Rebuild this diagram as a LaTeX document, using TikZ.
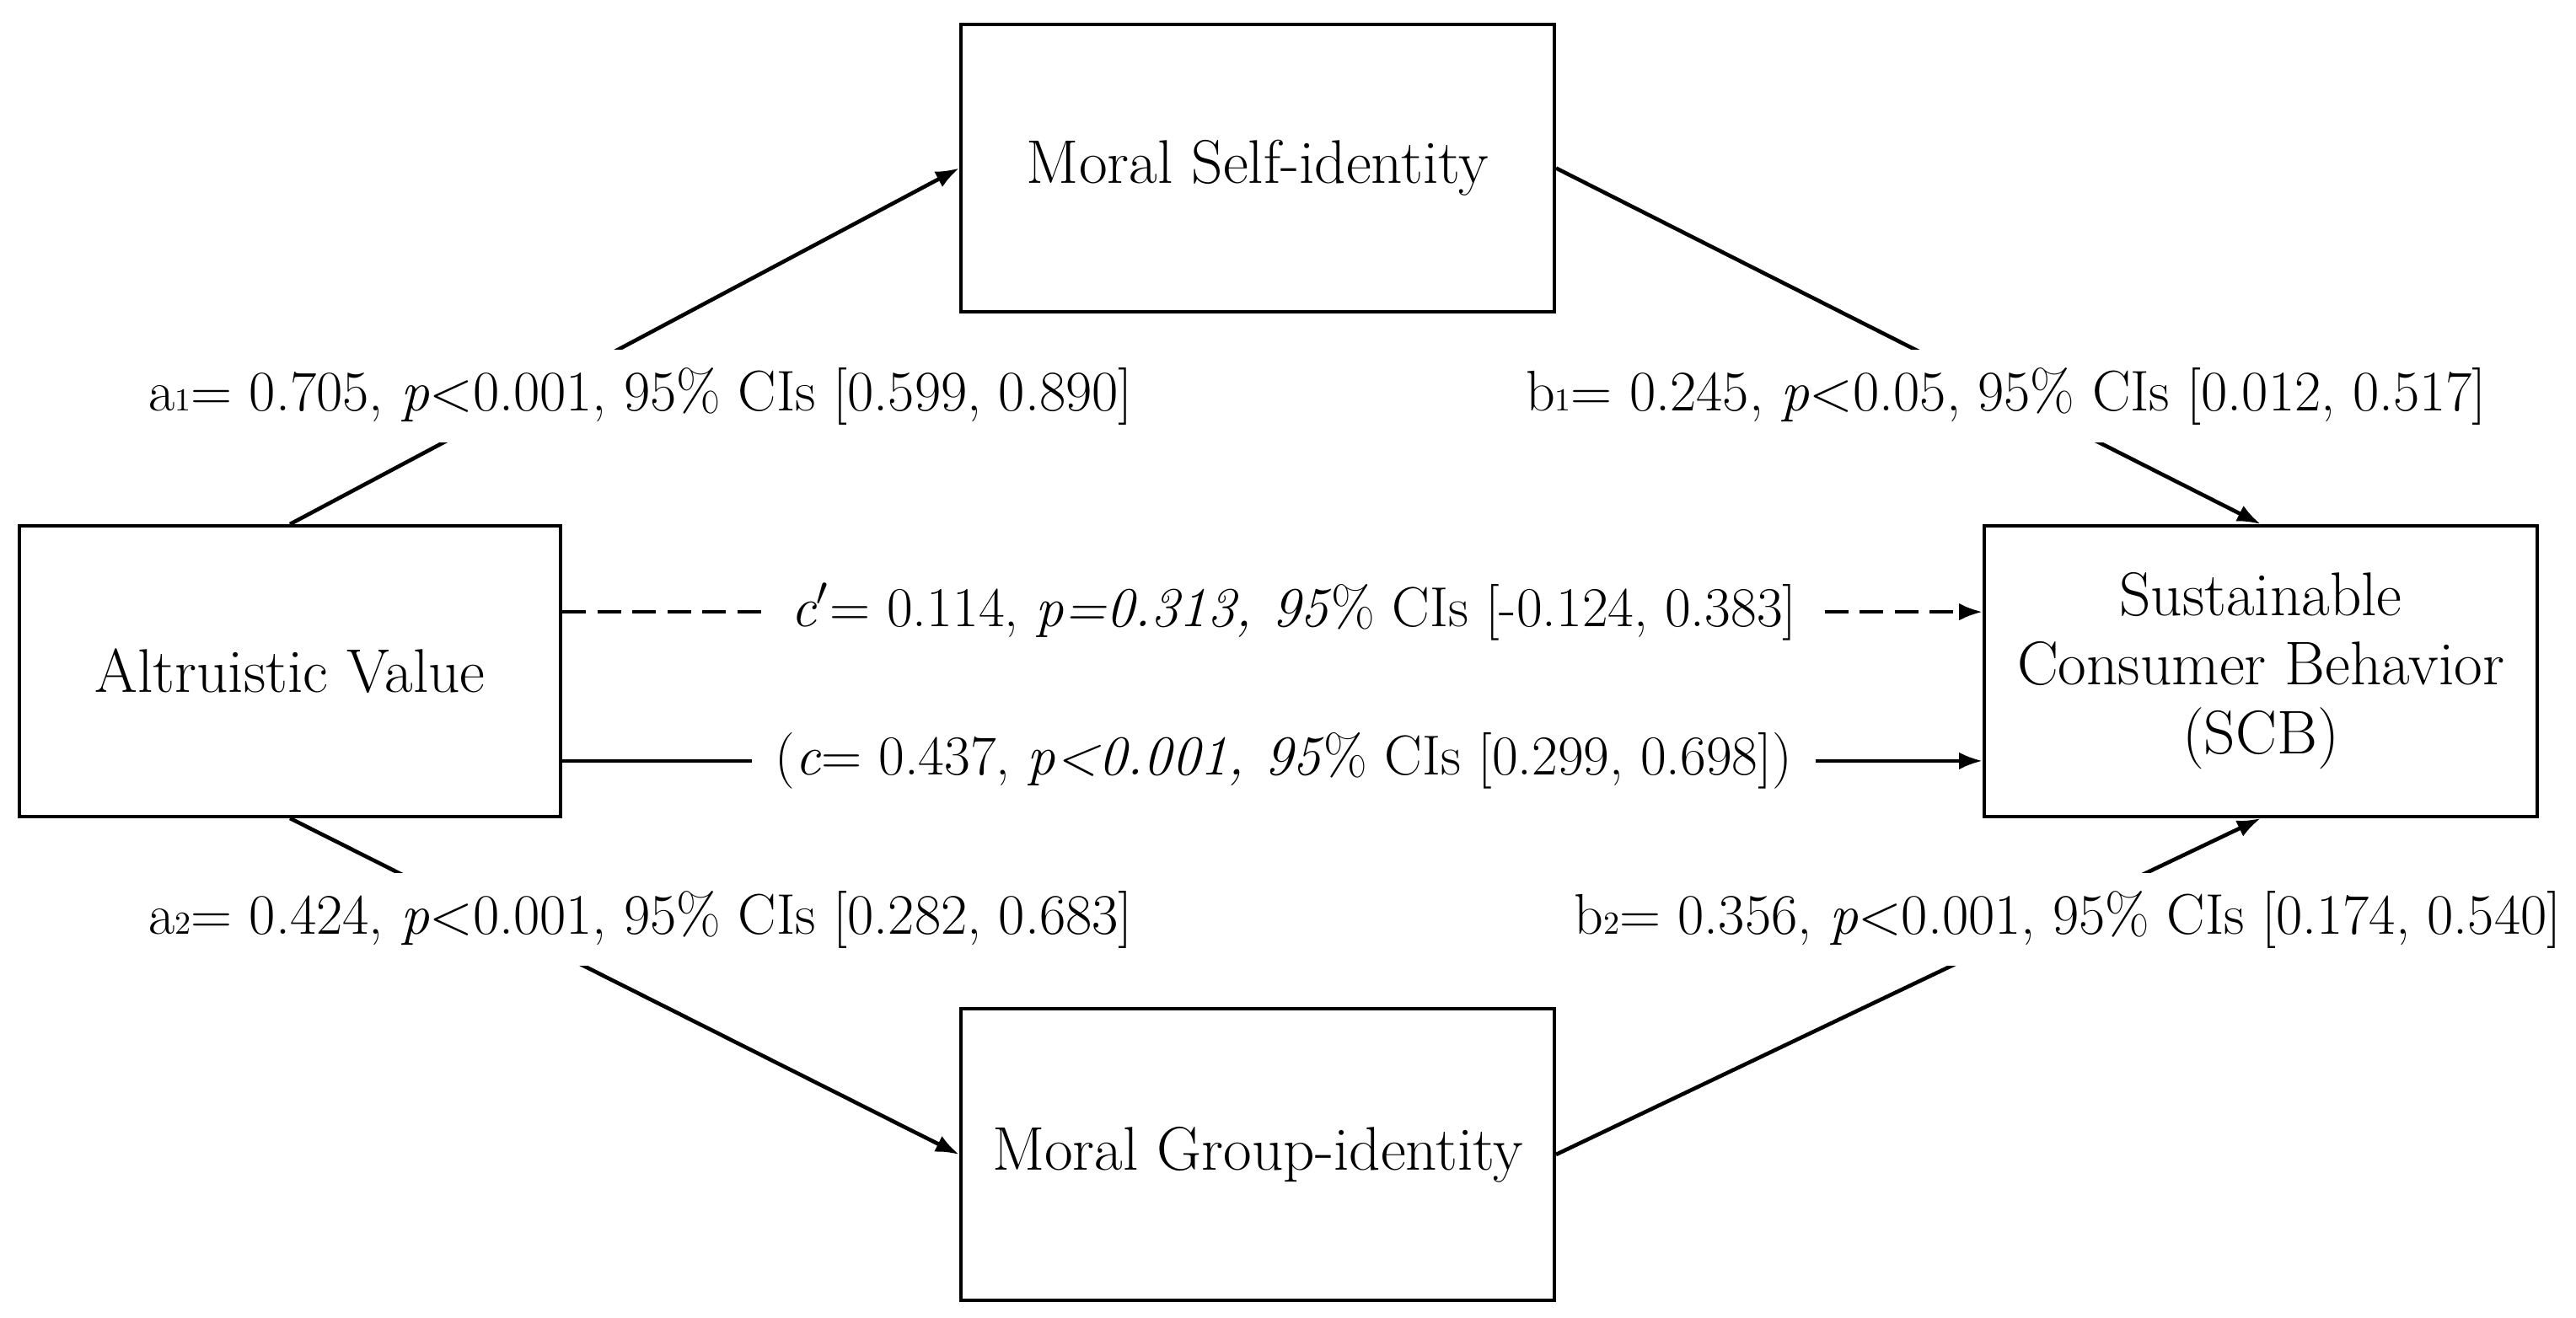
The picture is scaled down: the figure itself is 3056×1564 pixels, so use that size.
\documentclass[tikz,border=0pt]{standalone}
\usetikzlibrary{arrows.meta}
\begin{document}
\begin{tikzpicture}[x=0.25pt,y=-0.25pt,
  box/.style={draw=black,line width=1pt,fill=white,inner sep=0pt,align=center,
    font=\fontsize{18.3}{20.5}\selectfont},
  conn/.style={line width=1.15pt,-{Latex[length=7pt,width=5.2pt]}},
  lab/.style={fill=white,inner xsep=7pt,inner ysep=5.3pt,
    font=\fontsize{17}{19}\selectfont},
  labc/.style={lab,font=\fontsize{16.7}{19}\selectfont}]
\useasboundingbox (0,0) rectangle (3056,1564);
% boxes
\node[box,minimum width=176pt,minimum height=85.25pt] (msi) at (1492,199.5) {Moral Self-identity};
\node[box,minimum width=160.5pt,minimum height=86.25pt] (av) at (344,796.5) {Altruistic Value};
\node[box,minimum width=164pt,minimum height=86.25pt] (scb) at (2682,796.5) {Sustainable\\Consumer Behavior\\(SCB)};
\node[box,minimum width=176pt,minimum height=86.5pt] (mgi) at (1492,1370) {Moral Group-identity};
% connectors
\draw[conn] (av.north) -- (msi.west);
\draw[conn] (msi.east) -- (scb.north);
\draw[conn] (av.south) -- (mgi.west);
\draw[conn] (mgi.east) -- (scb.south);
\coordinate (cpS) at ([yshift=17.6pt]av.east);
\coordinate (cpE) at ([yshift=17.6pt]scb.west);
\coordinate (cS) at ([yshift=-26.6pt]av.east);
\coordinate (cE) at ([yshift=-26.6pt]scb.west);
\draw[conn,dash pattern=on 7pt off 3.4pt] (cpS) -- (cpE)
  node[labc,pos=0.515] (lcp) {\textit{c}$'$= 0.114, \textit{p=0.313, 95}\% CIs [-0.124, 0.383]};
\draw[conn] (cS) -- (cE)
  node[labc,pos=0.508] (lc) {(\textit{c}= 0.437, \textit{p<0.001, 95}\% CIs [0.299, 0.698])};
% path labels
\node[lab] (la1) at (760,470) {a{\fontsize{9.5}{9.5}\selectfont 1}= 0.705, \textit{p}<0.001, 95\% CIs [0.599, 0.890]};
\node[lab] (lb1) at (2380,470) {b{\fontsize{9.5}{9.5}\selectfont 1}= 0.245, \textit{p}<0.05, 95\% CIs [0.012, 0.517]};
\node[lab] (la2) at (760,1091) {a{\fontsize{9.5}{9.5}\selectfont 2}= 0.424, \textit{p}<0.001, 95\% CIs [0.282, 0.683]};
\node[lab] (lb2) at (2453,1091) {b{\fontsize{9.5}{9.5}\selectfont 2}= 0.356, \textit{p}<0.001, 95\% CIs [0.174, 0.540]};
\end{tikzpicture}
\end{document}
